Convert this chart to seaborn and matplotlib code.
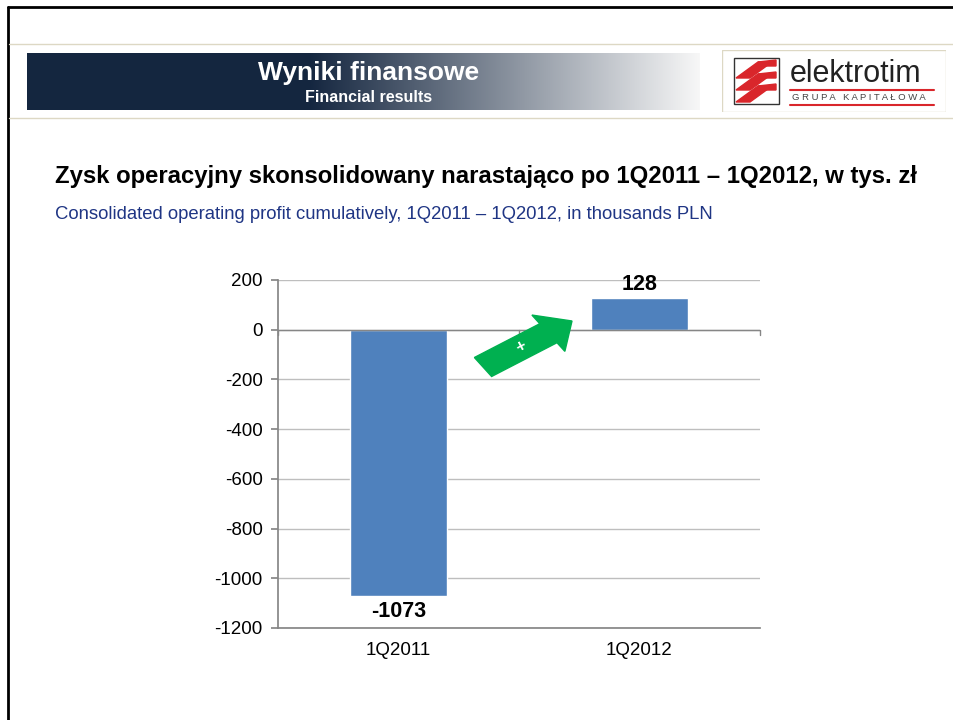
import numpy as np
import pandas as pd
import matplotlib
matplotlib.use("Agg")
import matplotlib.pyplot as plt
import seaborn as sns
from matplotlib.patches import Rectangle, FancyArrow, Polygon
from matplotlib.lines import Line2D

# Data
quarters = ["1Q2011", "1Q2012"]
profit = [-1073, 128]
y_ticks = [200, 0, -200, -400, -600, -800, -1000, -1200]

title_pl = "Zysk operacyjny skonsolidowany narastająco po 1Q2011 \u2013 1Q2012, w tys. zł"
title_en = "Consolidated operating profit cumulatively, 1Q2011 \u2013 1Q2012, in thousands PLN"

sns.set_theme(style="white")
plt.rcParams["font.family"] = ["Liberation Sans", "DejaVu Sans"]
plt.rcParams["text.color"] = "black"
plt.rcParams["xtick.color"] = "black"
plt.rcParams["ytick.color"] = "black"

W, H = 954, 720
fig = plt.figure(figsize=(W / 100, H / 100), dpi=100)
fig.patch.set_facecolor("white")


def fx(x):
    return x / W


def fy(y):
    return 1 - y / H


# page frame lines
fig.add_artist(Line2D([fx(8), fx(954)], [fy(7), fy(7)], color="black", lw=2))
fig.add_artist(Line2D([fx(8), fx(8)], [fy(7), fy(720)], color="black", lw=2))
fig.add_artist(Line2D([fx(9), fx(954)], [fy(44), fy(44)], color="#ddd8c4", lw=1))
fig.add_artist(Line2D([fx(9), fx(954)], [fy(118), fy(118)], color="#ddd8c4", lw=1))

# header gradient band
hax = fig.add_axes([fx(27), fy(110), fx(700 - 27), (110 - 53) / H])
grad = np.linspace(0, 1, 600)
navy = np.array([0.08, 0.15, 0.25])
white = np.array([0.97, 0.97, 0.97])
t = np.clip((grad - 0.42) / 0.58, 0, 1)
cols = navy[None, :] * (1 - t[:, None]) + white[None, :] * t[:, None]
hax.imshow(cols[None, :, :], aspect="auto", extent=[0, 1, 0, 1])
hax.set_axis_off()
fig.text(fx(369), fy(73), "Wyniki finansowe", color="white", fontsize=19,
         fontweight="bold", ha="center", va="center")
fig.text(fx(369), fy(98), "Financial results", color="white", fontsize=11.5,
         fontweight="bold", ha="center", va="center")

# logo
lax = fig.add_axes([fx(722), fy(112), fx(946 - 722), (112 - 50) / H])
lax.set_xlim(0, 224)
lax.set_ylim(62, 0)
lax.set_axis_off()
lax.add_patch(Rectangle((0, 0), 224, 62, fill=False, ec="#ddd8c4", lw=1))
lax.add_patch(Rectangle((12, 8), 45, 46, fill=False, ec="#333333", lw=1))
for k in range(3):
    y0 = 12 + k * 12
    lax.add_patch(Polygon([[14, y0 + 16], [36, y0], [50, y0], [28, y0 + 16]],
                          closed=True, color="#d9262b"))
    lax.add_patch(Polygon([[36, y0], [54, y0 - 2], [54, y0 + 4], [44, y0 + 4]],
                          closed=True, color="#d9262b"))
lax.text(68, 24, "elektrotim", fontsize=22, color="#222222", ha="left", va="center")
lax.plot([68, 212], [40, 40], color="#d9262b", lw=1.5)
lax.text(70, 47.5, "G R U P A   K A P I T A Ł O W A", fontsize=6.8, color="#444444",
         ha="left", va="center")
lax.plot([68, 212], [55, 55], color="#d9262b", lw=1.5)

# titles
fig.text(fx(55), fy(177), title_pl, fontsize=17.2, fontweight="bold", color="black",
         ha="left", va="center")
fig.text(fx(55), fy(214), title_en, fontsize=13.3, color="#1f3584", ha="left", va="center")

# chart
ax = fig.add_axes([fx(278), fy(628), fx(760 - 278), (628 - 280) / H])
df = pd.DataFrame({"quarter": quarters, "profit": profit})
sns.barplot(data=df, x="quarter", y="profit", color="#4f81bd", saturation=1,
            width=0.4, ax=ax, zorder=3)
ax.set_ylim(-1200, 200)
ax.set_xlim(-0.5, 1.5)
ax.set_yticks(y_ticks)
ax.set_yticklabels([str(v) for v in y_ticks], fontsize=13.5)
ax.tick_params(axis="y", length=5, color="#868686", pad=6, left=True)
ax.tick_params(axis="x", length=0, pad=10, labelsize=13.5)
ax.set_xlabel("")
ax.set_ylabel("")
ax.grid(axis="y", color="#bebebe", lw=1, zorder=0)
ax.axhline(0, color="#868686", lw=1, zorder=4)
for xb in [-0.5, 0.5, 1.5]:
    ax.plot([xb, xb], [0, -20], color="#868686", lw=1, zorder=4, clip_on=False)
for s in ["top", "right"]:
    ax.spines[s].set_visible(False)
ax.spines["left"].set_color("#868686")
ax.spines["bottom"].set_color("#868686")
ax.set_facecolor("white")

for i, v in enumerate(profit):
    if v < 0:
        ax.text(i, v - 20, f"{v}", ha="center", va="top", fontsize=15.5, fontweight="bold")
    else:
        ax.text(i, v + 10, f"{v}", ha="center", va="bottom", fontsize=15.5, fontweight="bold")

# green arrow (annotation in page pixel space)
tail = (483, 367)
tip = (572, 321)
arr = FancyArrow(fx(tail[0]), fy(tail[1]), fx(tip[0] - tail[0]), fy(tip[1]) - fy(tail[1]),
                 width=23 / H, head_width=44 / H, head_length=0.03,
                 length_includes_head=True, color="#00b050", transform=fig.transFigure,
                 figure=fig)
fig.add_artist(arr)
fig.text(fx(521), fy(347), "+", color="white", fontsize=12, fontweight="bold",
         ha="center", va="center", rotation=28)

fig.savefig("out.png", dpi=100)
